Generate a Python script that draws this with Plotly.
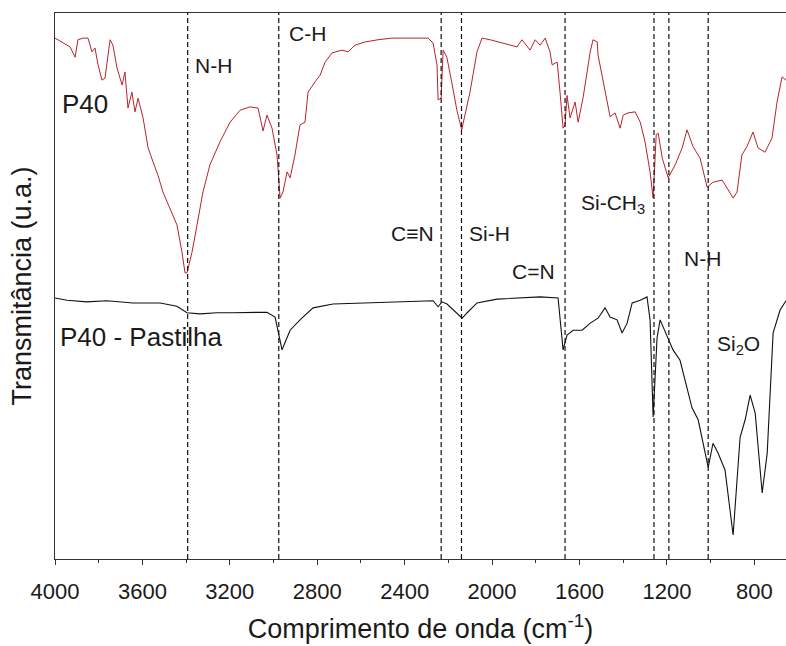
import plotly.graph_objects as go

# ---- data (wavenumber in cm-1, transmittance in a.u.) ----
p40_wn = [4000, 3963, 3931, 3908, 3895, 3872, 3849, 3831, 3817, 3803, 3785, 3771, 3748, 3735,
          3716, 3693, 3680, 3666, 3648, 3634, 3620, 3597, 3574, 3551, 3529, 3506, 3474, 3442,
          3419, 3405, 3396, 3373, 3350, 3323, 3291, 3245, 3199, 3153, 3108, 3071, 3048, 3030,
          3007, 2984, 2970, 2957, 2938, 2924, 2902, 2879, 2856, 2842, 2810, 2787, 2764, 2732,
          2687, 2659, 2627, 2581, 2522, 2458, 2412, 2293, 2270, 2252, 2247, 2233, 2224, 2207,
          2184, 2161, 2139, 2101, 2069, 2046, 2009, 1950, 1886, 1863, 1826, 1803, 1780, 1757,
          1735, 1725, 1702, 1689, 1675, 1666, 1657, 1643, 1620, 1606, 1584, 1565, 1551, 1538,
          1519, 1515, 1492, 1474, 1460, 1437, 1414, 1400, 1378, 1345, 1322, 1300, 1277, 1263,
          1249, 1240, 1221, 1194, 1162, 1130, 1108, 1080, 1048, 1016, 989, 947, 924, 897, 879,
          857, 834, 806, 783, 751, 719, 696, 673, 655]
p40_t = [95.4, 94.5, 93.8, 91.9, 95.1, 95.4, 95.4, 92.9, 93.6, 90.5, 87.7, 88.1, 95.1, 94.1,
         89.9, 86.8, 89.2, 82.6, 85.5, 81.9, 84.4, 80.8, 75.3, 72.7, 70.3, 67.2, 64.3, 61.2,
         56.2, 52.4, 52.4, 56.2, 61.2, 67.2, 72.2, 76.4, 80.0, 82.2, 82.8, 82.6, 78.4, 81.3,
         78.9, 74.0, 66.1, 67.2, 70.9, 69.8, 74.0, 79.5, 80.0, 85.5, 87.4, 88.6, 91.0, 92.7,
         93.2, 92.9, 94.1, 94.7, 95.1, 95.4, 95.4, 95.4, 94.5, 90.5, 84.1, 84.4, 93.2, 91.9,
         87.2, 82.2, 78.6, 85.5, 92.9, 95.4, 95.1, 94.5, 93.8, 95.1, 93.2, 95.1, 94.1, 95.4,
         92.9, 90.5, 91.0, 85.5, 78.9, 79.5, 84.9, 80.8, 83.7, 80.0, 84.4, 89.2, 92.9, 95.1,
         94.7, 92.3, 87.4, 83.7, 81.0, 81.7, 78.9, 81.3, 81.7, 81.9, 80.0, 76.4, 70.9, 66.1,
         77.7, 78.0, 73.4, 69.8, 72.2, 75.3, 78.6, 75.5, 73.4, 68.1, 69.0, 69.4, 67.9, 66.1, 67.2,
         74.0, 75.5, 78.2, 75.3, 74.5, 77.1, 83.7, 88.3, 87.7]

pastilha_wn = [4000, 3945, 3854, 3762, 3643, 3519, 3442, 3396, 3336, 3259, 3185, 3030, 2993,
               2979, 2961, 2947, 2924, 2879, 2819, 2728, 2572, 2421, 2270, 2247, 2229, 2206,
               2137, 2114, 2069, 1977, 1780, 1698, 1675, 1657, 1629, 1588, 1551, 1515, 1483,
               1460, 1428, 1405, 1382, 1359, 1322, 1291, 1277, 1263, 1245, 1231, 1199, 1172,
               1140, 1108, 1085, 1057, 1016, 1011, 989, 966, 934, 897, 865, 842, 819, 796,
               764, 741, 714, 682, 655]
pastilha_t = [47.8, 47.4, 47.1, 47.3, 46.9, 46.9, 46.3, 45.1, 44.9, 45.1, 45.1, 45.2, 44.3,
              41.9, 38.3, 39.7, 41.9, 43.8, 46.0, 46.7, 46.9, 47.1, 47.3, 46.2, 47.1, 46.7,
              44.1, 45.1, 46.9, 47.6, 48.0, 47.8, 38.3, 41.0, 41.9, 41.9, 43.2, 44.1, 46.0,
              44.3, 43.8, 41.4, 43.2, 46.9, 47.4, 48.0, 43.8, 26.0, 40.5, 43.8, 40.7, 38.3,
              36.4, 31.5, 27.7, 25.5, 18.1, 16.8, 21.2, 19.4, 16.3, 4.4, 22.3, 25.5, 30.0, 26.7,
              12.1, 19.4, 41.4, 45.6, 47.3]

band_wn = [3393, 2976, 2233, 2140, 1666, 1259, 1191, 1011]

label_text = ["P40", "P40 - Pastilha", "N-H", "C-H", "C≡N", "Si-H", "C=N",
              "Si-CH<sub>3</sub>", "N-H", "Si<sub>2</sub>O"]
label_wn = [3977, 3986, 3368, 2938, 2366, 2014, 1812, 1602, 1039, 979]
label_t = [83.3, 40.7, 90.3, 96.3, 59.7, 59.7, 52.6, 65.0, 55.1, 39.2]
label_size = [26, 26, 21, 21, 21, 21, 21, 21, 21, 21]
label_anchor = ["left", "left", "left", "left", "center", "center", "center", "left",
                "center", "left"]

FONT = "Arial, Liberation Sans, sans-serif"

fig = go.Figure()
fig.add_trace(go.Scatter(x=p40_wn, y=p40_t, mode="lines",
                         line=dict(color="#b8232b", width=1), showlegend=False))
fig.add_trace(go.Scatter(x=pastilha_wn, y=pastilha_t, mode="lines",
                         line=dict(color="#111111", width=1.1), showlegend=False))

for w in band_wn:
    fig.add_shape(type="line", xref="x", yref="paper", x0=w, x1=w, y0=0, y1=1,
                  line=dict(color="#111111", width=1.2, dash="5px,3px"), layer="above")

for t, w, v, s, a in zip(label_text, label_wn, label_t, label_size, label_anchor):
    fig.add_annotation(x=w, y=v, xref="x", yref="y", text=t, showarrow=False,
                       xanchor=a, yanchor="middle",
                       font=dict(family=FONT, size=s, color="#1a1a1a"))

fig.update_layout(
    width=786, height=646,
    margin=dict(l=55, r=0, t=13, b=87),
    paper_bgcolor="white", plot_bgcolor="white",
    font=dict(family=FONT, color="#1a1a1a"),
    showlegend=False,
)
fig.update_xaxes(
    range=[4000, 655], tickmode="array",
    tickvals=[4000, 3600, 3200, 2800, 2400, 2000, 1600, 1200, 800],
    ticks="outside", ticklen=5, tickwidth=1.2, tickcolor="#333",
    ticklabelstandoff=7,
    minor=dict(tickvals=[3800, 3400, 3000, 2600, 2200, 1800, 1400, 1000],
               ticks="outside", ticklen=3, tickcolor="#333", tickwidth=1),
    showline=True, linecolor="#333", linewidth=1.3, mirror=True,
    showgrid=False, zeroline=False,
    tickfont=dict(family=FONT, size=22, color="#1a1a1a"),
    title=dict(text="Comprimento de onda (cm<sup>-1</sup>)",
               font=dict(family=FONT, size=27, color="#1a1a1a"), standoff=16),
)
fig.update_yaxes(
    range=[0, 100], showticklabels=False, ticks="",
    showline=True, linecolor="#333", linewidth=1.3, mirror=False,
    showgrid=False, zeroline=False,
    title=dict(text="Transmitância (u.a.)",
               font=dict(family=FONT, size=27, color="#1a1a1a"), standoff=14),
)

fig.write_html("out.html")
